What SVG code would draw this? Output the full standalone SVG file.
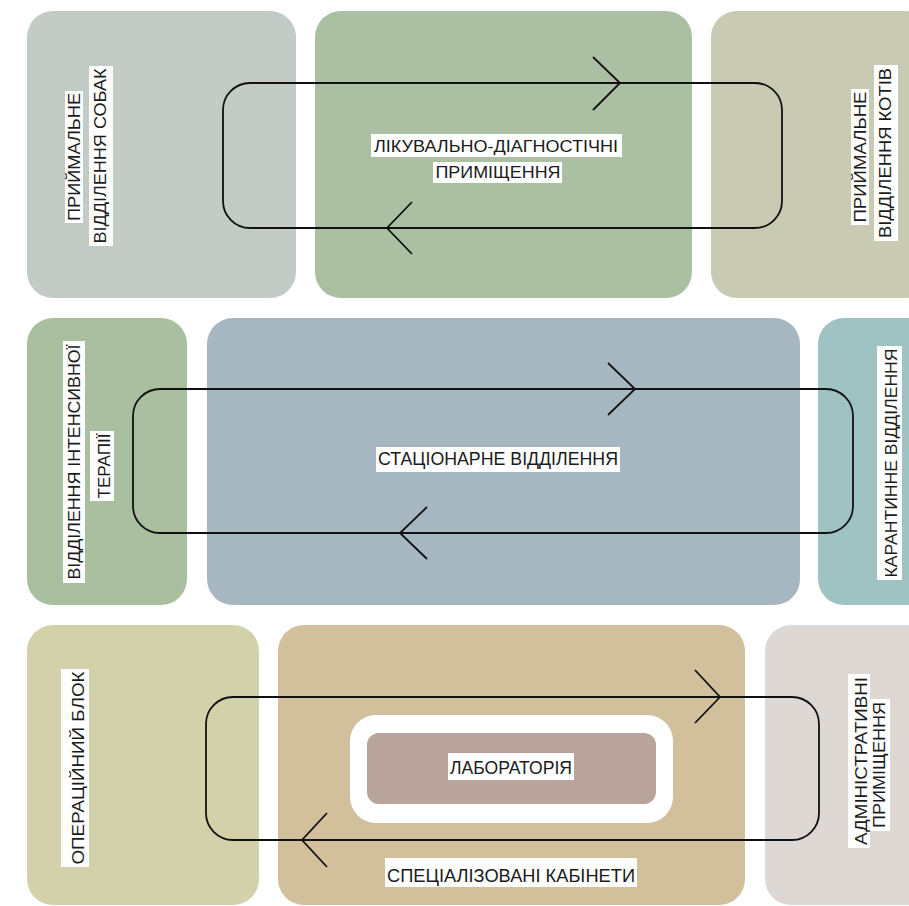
<svg xmlns="http://www.w3.org/2000/svg" width="909" height="906" viewBox="0 0 909 906">
<style>
.t{font-family:"Liberation Sans",Arial,sans-serif;font-size:17px;fill:#1a1a1a;text-anchor:middle}
.bg{fill:#ffffff}
.loop{fill:none;stroke:#111;stroke-width:1.8}
.arr{fill:none;stroke:#111;stroke-width:1.8;stroke-linejoin:miter}
</style>
<rect width="909" height="906" fill="#ffffff"/>

<!-- Row 1 -->
<g id="dogs">
<rect x="27" y="11" width="269" height="287" rx="26" fill="#c2cbc6"/>
<g transform="translate(80,157) rotate(-90)">
<rect class="bg" x="-66" y="-15" width="132" height="18"/>
<text class="t" x="0" y="0" textLength="128" lengthAdjust="spacingAndGlyphs">ПРИЙМАЛЬНЕ</text>
</g>
<g transform="translate(106,156) rotate(-90)">
<rect class="bg" x="-90" y="-17" width="180" height="24"/>
<text class="t" x="0" y="0" textLength="175" lengthAdjust="spacingAndGlyphs">ВІДДІЛЕННЯ СОБАК</text>
</g>
</g>

<g id="diagnostic">
<rect x="315" y="11" width="377" height="287" rx="26" fill="#abbfa3"/>
<rect class="bg" x="371" y="134" width="251" height="23"/>
<text class="t" x="496" y="152" textLength="244" lengthAdjust="spacingAndGlyphs">ЛІКУВАЛЬНО-ДІАГНОСТІЧНІ</text>
<rect class="bg" x="433" y="162" width="129" height="21"/>
<text class="t" x="498" y="178" textLength="125" lengthAdjust="spacingAndGlyphs">ПРИМІЩЕННЯ</text>
</g>

<g id="cats">
<rect x="711" y="11" width="220" height="287" rx="26" fill="#c8cbb2"/>
<g transform="translate(866,157) rotate(-90)">
<rect class="bg" x="-68" y="-15" width="136" height="18"/>
<text class="t" x="0" y="0" textLength="131" lengthAdjust="spacingAndGlyphs">ПРИЙМАЛЬНЕ</text>
</g>
<g transform="translate(891,153) rotate(-90)">
<rect class="bg" x="-88" y="-17" width="176" height="24"/>
<text class="t" x="0" y="0" textLength="170" lengthAdjust="spacingAndGlyphs">ВІДДІЛЕННЯ КОТІВ</text>
</g>
</g>

<!-- Row 2 -->
<g id="intensive">
<rect x="27" y="318" width="160" height="287" rx="26" fill="#a9bf9f"/>
<g transform="translate(80,462) rotate(-90)">
<rect class="bg" x="-121" y="-17" width="242" height="22"/>
<text class="t" x="0" y="0" textLength="235" lengthAdjust="spacingAndGlyphs">ВІДДІЛЕННЯ ІНТЕНСИВНОЇ</text>
</g>
<g transform="translate(110,466) rotate(-90)">
<rect class="bg" x="-35" y="-20" width="70" height="24"/>
<text class="t" x="0" y="0" textLength="65" lengthAdjust="spacingAndGlyphs">ТЕРАПІЇ</text>
</g>
</g>

<g id="stationary">
<rect x="207" y="318" width="593" height="287" rx="26" fill="#a7b7c1"/>
<rect class="bg" x="376" y="447" width="244" height="25"/>
<text class="t" x="498" y="465" font-size="18" style="font-size:18px" textLength="240" lengthAdjust="spacingAndGlyphs">СТАЦІОНАРНЕ ВІДДІЛЕННЯ</text>
</g>

<g id="quarantine">
<rect x="818" y="318" width="115" height="287" rx="26" fill="#9fc2c2"/>
<g transform="translate(897,463) rotate(-90)">
<rect class="bg" x="-117" y="-20" width="234" height="25"/>
<text class="t" x="0" y="0" textLength="229" lengthAdjust="spacingAndGlyphs">КАРАНТИННЕ ВІДДІЛЕННЯ</text>
</g>
</g>

<!-- Row 3 -->
<g id="surgery">
<rect x="27" y="625" width="232" height="280" rx="26" fill="#d3d1aa"/>
<g transform="translate(84,768) rotate(-90)">
<rect class="bg" x="-99" y="-23" width="198" height="28"/>
<text class="t" x="0" y="0" textLength="193" lengthAdjust="spacingAndGlyphs">ОПЕРАЦІЙНИЙ БЛОК</text>
</g>
</g>

<g id="cabinets">
<rect x="278" y="625" width="467" height="280" rx="26" fill="#d2bf9c"/>
<rect x="350" y="715" width="323" height="108" rx="26" fill="#ffffff"/>
<rect class="bg" x="385" y="858" width="252" height="29"/>
<text class="t" x="511" y="882" style="font-size:19px" textLength="248" lengthAdjust="spacingAndGlyphs">СПЕЦІАЛІЗОВАНІ КАБІНЕТИ</text>
</g>

<g id="laboratory">
<rect x="367" y="733" width="289" height="71" rx="12" fill="#b9a49b"/>
<rect class="bg" x="448" y="753" width="126" height="27"/>
<text class="t" x="511" y="774" style="font-size:18px" textLength="122" lengthAdjust="spacingAndGlyphs">ЛАБОРАТОРІЯ</text>
</g>

<g id="admin">
<rect x="765" y="625" width="170" height="280" rx="26" fill="#ddd8d4"/>
<g transform="translate(867,761) rotate(-90)">
<rect class="bg" x="-87" y="-19" width="174" height="22"/>
<text class="t" x="0" y="0" textLength="168" lengthAdjust="spacingAndGlyphs">АДМІНІСТРАТИВНІ</text>
</g>
<g transform="translate(885,765) rotate(-90)">
<rect class="bg" x="-66" y="-15" width="132" height="20"/>
<text class="t" x="0" y="0" textLength="126" lengthAdjust="spacingAndGlyphs">ПРИМІЩЕННЯ</text>
</g>
</g>

<!-- Connectors -->
<g id="connectors">
<rect class="loop" x="223" y="83" width="559" height="145" rx="27"/>
<polyline class="arr" points="593,57 620,83 593,110"/>
<polyline class="arr" points="412,202 387,228 412,254"/>

<rect class="loop" x="133" y="389" width="720" height="144" rx="27"/>
<polyline class="arr" points="608,363 635,389 608,415"/>
<polyline class="arr" points="427,507 400,533 427,559"/>

<rect class="loop" x="206" y="697" width="613" height="143" rx="27"/>
<polyline class="arr" points="695,670 720,697 695,723"/>
<polyline class="arr" points="327,813 302,840 327,867"/>
</g>
</svg>
